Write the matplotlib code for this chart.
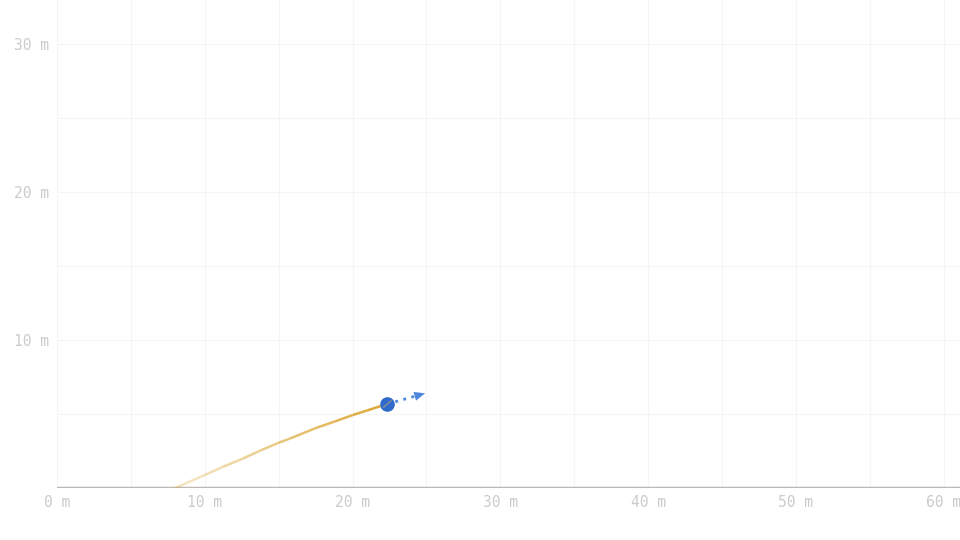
import numpy as np
import matplotlib
matplotlib.use('Agg')
import matplotlib.pyplot as plt
from matplotlib.collections import LineCollection
from matplotlib.colors import to_rgba

# trail of the projectile (metres)
trail_x = [8.0, 10.0, 11.2, 12.6, 13.8, 15.0, 15.8, 17.5, 18.8, 20.0, 21.0, 21.9, 22.35]
trail_y = [0.0, 0.88, 1.42, 2.0, 2.55, 3.06, 3.36, 4.05, 4.5, 4.93, 5.25, 5.54, 5.68]

ball_x, ball_y = 22.35, 5.68
arrow_tip = (24.9, 6.4)

x_ticks = [0, 10, 20, 30, 40, 50, 60]
y_ticks = [10, 20, 30]
grid_step = 5

fig = plt.figure(figsize=(9.6, 5.4), dpi=100)
ax = fig.add_axes((57 / 960, 52 / 540, 903 / 960, 488 / 540))
ax.set_xlim(0, 61.1)
ax.set_ylim(0, 33.0)
for s in ax.spines.values():
    s.set_visible(False)

ax.set_xticks(np.arange(0, 61, grid_step), minor=True)
ax.set_yticks(np.arange(0, 33, grid_step), minor=True)
ax.set_xticks(x_ticks, ['%d m' % v for v in x_ticks])
ax.set_yticks(y_ticks, ['%d m' % v for v in y_ticks])
ax.grid(True, which='both', color='#f5f5f5', lw=0.8)
ax.tick_params(which='both', length=0)
ax.tick_params(axis='x', pad=5)
ax.tick_params(axis='y', pad=6)
for lab in ax.get_xticklabels() + ax.get_yticklabels():
    lab.set_family('DejaVu Sans Mono')
    lab.set_fontsize(10.5)
    lab.set_color('#cbcbcb')

# ground
ax.axhline(0, color='#bcb8b4', lw=2.5, zorder=3)

# fading trail
pts = np.column_stack([trail_x, trail_y])
segs = np.stack([pts[:-1], pts[1:]], axis=1)
n = len(segs)
cols = [to_rgba('#daa32a', 0.3 + 0.7 * i / (n - 1)) for i in range(n)]
ax.add_collection(LineCollection(segs, colors=cols, linewidths=1.8, zorder=4,
                                 capstyle='butt', joinstyle='round'))

# velocity arrow
dx, dy = arrow_tip[0] - ball_x, arrow_tip[1] - ball_y
ax.plot([ball_x, ball_x + dx * 0.75], [ball_y, ball_y + dy * 0.75], ls=(0, (1, 2.0)),
        color='#4a86de', lw=2, zorder=4)
ax.annotate('', xy=arrow_tip, xytext=(ball_x + dx * 0.65, ball_y + dy * 0.65),
            arrowprops=dict(arrowstyle='-|>,head_length=0.75,head_width=0.32', color='#4a86de',
                            lw=0.1, shrinkA=0, shrinkB=0), zorder=5)

# ball
ax.plot(ball_x, ball_y, 'o', ms=9.5, color='#2f6bcb', zorder=6)
ax.plot([ball_x - 0.25, ball_x + 0.25], [ball_y - 0.22, ball_y + 0.22], color='#8a8f9a', lw=1, zorder=7)

fig.savefig('out.png', dpi=100)
